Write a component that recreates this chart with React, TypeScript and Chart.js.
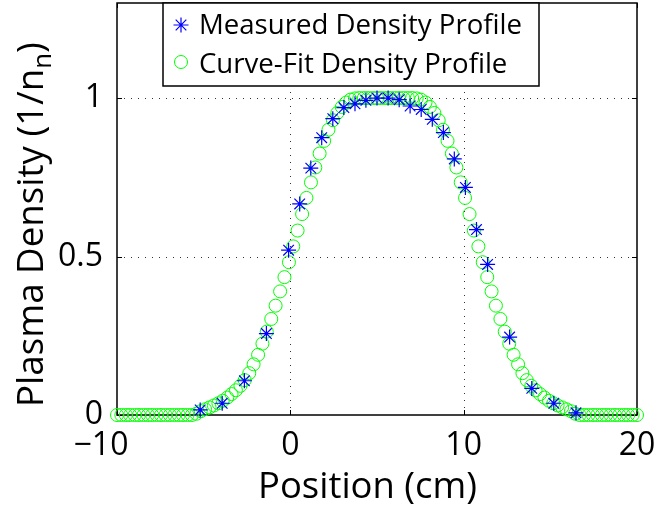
import React, { useEffect, useRef } from "react";
import { Chart, registerables } from "chart.js";

Chart.register(...registerables);

// ---------- data ----------
const measuredX = [
  -5.2, -3.93, -2.65, -1.38, -0.1, 0.54, 1.18, 1.81, 2.45, 3.09, 3.73, 4.36, 5.0, 5.64,
  6.28, 6.91, 7.55, 8.19, 8.83, 9.46, 10.1, 10.74, 11.38, 12.65, 13.93, 15.2, 16.48,
];
const measuredY = [
  0.016, 0.037, 0.108, 0.257, 0.52, 0.666, 0.779, 0.875, 0.935, 0.97, 0.982, 0.993, 1.0, 1.0,
  0.995, 0.975, 0.964, 0.933, 0.891, 0.808, 0.718, 0.585, 0.475, 0.246, 0.084, 0.037, 0.007,
];

const fitX = [
  -10.0, -9.75, -9.49, -9.24, -8.98, -8.73, -8.47, -8.22, -7.97, -7.71, -7.46, -7.2, -6.95,
  -6.69, -6.44, -6.19, -5.93, -5.68, -5.42, -5.17, -4.92, -4.66, -4.41, -4.15, -3.9, -3.64,
  -3.39, -3.14, -2.88, -2.63, -2.37, -2.12, -1.86, -1.61, -1.36, -1.1, -0.85, -0.59, -0.34,
  -0.08, 0.17, 0.42, 0.68, 0.93, 1.19, 1.44, 1.69, 1.95, 2.2, 2.46, 2.71, 2.97, 3.22, 3.47,
  3.73, 3.98, 4.24, 4.49, 4.75, 5.0, 5.25, 5.51, 5.76, 6.02, 6.27, 6.53, 6.78, 7.03, 7.29,
  7.54, 7.8, 8.05, 8.31, 8.56, 8.81, 9.07, 9.32, 9.58, 9.83, 10.08, 10.34, 10.59, 10.85,
  11.1, 11.36, 11.61, 11.86, 12.12, 12.37, 12.63, 12.88, 13.14, 13.39, 13.64, 13.9, 14.15,
  14.41, 14.66, 14.92, 15.17, 15.42, 15.68, 15.93, 16.19, 16.44, 16.69, 16.95, 17.2, 17.46,
  17.71, 17.97, 18.22, 18.47, 18.73, 18.98, 19.24, 19.49, 19.75, 20.0,
];
const fitY = [
  0, 0, 0, 0, 0, 0, 0, 0, 0, 0, 0, 0, 0, 0, 0, 0, 0, 0,
  0.004, 0.012, 0.018, 0.024, 0.03, 0.037, 0.045, 0.055, 0.066, 0.078, 0.092, 0.11, 0.132,
  0.16, 0.19, 0.225, 0.263, 0.303, 0.345, 0.39, 0.435, 0.482, 0.532, 0.582, 0.634, 0.685,
  0.734, 0.781, 0.825, 0.865, 0.9, 0.93, 0.953, 0.972, 0.986, 0.995, 0.999,
  1, 1, 1, 1, 1, 1, 1, 1, 1, 1, 1, 1, 1,
  0.999, 0.995, 0.986, 0.972, 0.953, 0.93, 0.9, 0.865, 0.825, 0.781, 0.734, 0.685, 0.634,
  0.582, 0.532, 0.482, 0.435, 0.39, 0.345, 0.303, 0.263, 0.225, 0.19, 0.16, 0.132, 0.11,
  0.092, 0.078, 0.066, 0.055, 0.045, 0.037, 0.03, 0.024, 0.018, 0.012, 0.004,
  0, 0, 0, 0, 0, 0, 0, 0, 0, 0, 0, 0, 0, 0,
];

const xTicks = [-10, 0, 10, 20];
const xTickLabels = ["\u221210\u2002\u2002", "0", "10", "20"];
const yTicks = [0, 0.5, 1];
const yTickLabels = ["0", "0.5", "1"];
const legendLabels = ["Measured Density Profile", "Curve-Fit Density Profile"];
const xTitle = "Position (cm)";
const yTitleMain = "Plasma Density (1/n";
const yTitleSub = "n";
const yTitleEnd = ")";

const FONT = "'Open Sans', 'Liberation Sans', sans-serif";

function fitSize(ctx: CanvasRenderingContext2D, text: string, target: number) {
  ctx.font = `100px ${FONT}`;
  const w = ctx.measureText(text).width;
  return (100 * target) / w;
}

const matlabPlugin = {
  id: "matlabAxes",
  beforeDatasetsDraw(chart: any) {
    const { ctx, chartArea: a, scales } = chart;
    const xs = scales.x;
    const ys = scales.y;
    ctx.save();
    // dotted grid
    ctx.strokeStyle = "#333";
    ctx.lineWidth = 1;
    ctx.setLineDash([1, 6]);
    xTicks.forEach((v) => {
      if (v <= xs.min || v >= xs.max) return;
      const px = Math.round(xs.getPixelForValue(v)) + 0.5;
      ctx.beginPath();
      ctx.moveTo(px, a.bottom);
      ctx.lineTo(px, a.top);
      ctx.stroke();
    });
    yTicks.forEach((v) => {
      if (v <= ys.min || v >= ys.max) return;
      const py = Math.round(ys.getPixelForValue(v)) + 0.5;
      ctx.beginPath();
      ctx.moveTo(a.left, py);
      ctx.lineTo(a.right, py);
      ctx.stroke();
    });
    ctx.setLineDash([]);
    // box
    ctx.strokeStyle = "#000";
    ctx.lineWidth = 1.5;
    ctx.strokeRect(a.left, a.top, a.right - a.left, a.bottom - a.top);
    // inside ticks
    ctx.lineWidth = 1;
    const tl = 5;
    xTicks.forEach((v) => {
      const px = Math.round(xs.getPixelForValue(v)) + 0.5;
      ctx.beginPath();
      ctx.moveTo(px, a.bottom);
      ctx.lineTo(px, a.bottom - tl);
      ctx.moveTo(px, a.top);
      ctx.lineTo(px, a.top + tl);
      ctx.stroke();
    });
    yTicks.forEach((v) => {
      const py = Math.round(ys.getPixelForValue(v)) + 0.5;
      ctx.beginPath();
      ctx.moveTo(a.left, py);
      ctx.lineTo(a.left + tl, py);
      ctx.moveTo(a.right, py);
      ctx.lineTo(a.right - tl, py);
      ctx.stroke();
    });
    ctx.restore();
  },
  afterDraw(chart: any) {
    const { ctx } = chart;
    ctx.save();
    ctx.textBaseline = "alphabetic";

    // legend box
    const lx = 163, ly = 3, lw = 376, lh = 83;
    ctx.fillStyle = "#fff";
    ctx.fillRect(lx, ly, lw, lh);
    ctx.strokeStyle = "#000";
    ctx.lineWidth = 1.5;
    ctx.strokeRect(lx, ly, lw, lh);
    const lsize = fitSize(ctx, legendLabels[0], 323);
    ctx.font = `${lsize}px ${FONT}`;
    ctx.fillStyle = "#000";
    ctx.textAlign = "left";
    ctx.fillText(legendLabels[0], 199, 34);
    ctx.fillText(legendLabels[1], 199, 72.5);
    // legend markers
    const ds0 = chart.data.datasets[0];
    const ds1 = chart.data.datasets[1];
    ctx.strokeStyle = ds0.borderColor;
    ctx.lineWidth = ds0.borderWidth;
    ctx.beginPath();
    {
      const r = ds0.pointRadius;
      for (let i = 0; i < 4; i++) {
        const ang = (i * Math.PI) / 4;
        ctx.moveTo(181 - Math.cos(ang) * r, 25 - Math.sin(ang) * r);
        ctx.lineTo(181 + Math.cos(ang) * r, 25 + Math.sin(ang) * r);
      }
    }
    ctx.stroke();
    ctx.strokeStyle = ds1.borderColor;
    ctx.lineWidth = ds1.borderWidth;
    ctx.beginPath();
    ctx.arc(181, 62, ds1.pointRadius, 0, Math.PI * 2);
    ctx.stroke();

    // x title
    const xsize = fitSize(ctx, xTitle, 219);
    ctx.font = `${xsize}px ${FONT}`;
    ctx.fillStyle = "#000";
    ctx.textAlign = "center";
    ctx.fillText(xTitle, 367.5, 498);

    // y title (rotated, with subscript)
    ctx.font = `100px ${FONT}`;
    const wMain = ctx.measureText(yTitleMain).width;
    const wEnd = ctx.measureText(yTitleEnd).width;
    ctx.font = `70px ${FONT}`;
    const wSub = ctx.measureText(yTitleSub).width;
    const ysize = (100 * 365) / (wMain + wSub + wEnd);
    ctx.translate(43, 407);
    ctx.rotate(-Math.PI / 2);
    ctx.textAlign = "left";
    ctx.font = `${ysize}px ${FONT}`;
    ctx.fillText(yTitleMain, 0, 0);
    let off = ctx.measureText(yTitleMain).width;
    ctx.font = `${ysize * 0.7}px ${FONT}`;
    ctx.fillText(yTitleSub, off, ysize * 0.22);
    off += ctx.measureText(yTitleSub).width;
    ctx.font = `${ysize}px ${FONT}`;
    ctx.fillText(yTitleEnd, off, 0);
    ctx.restore();
  },
};

export default function App() {
  const ref = useRef<HTMLCanvasElement | null>(null);
  useEffect(() => {
    if (!ref.current) return;
    const chart = new Chart(ref.current, {
      type: "scatter",
      data: {
        datasets: [
          {
            label: legendLabels[0],
            data: measuredX.map((x, i) => ({ x, y: measuredY[i] })),
            pointStyle: "star",
            pointRadius: 7.5,
            borderColor: "#0000ff",
            backgroundColor: "#0000ff",
            borderWidth: 1.2,
            showLine: false,
            clip: false,
          } as any,
          {
            label: legendLabels[1],
            data: fitX.map((x, i) => ({ x, y: fitY[i] })),
            pointStyle: "circle",
            pointRadius: 6.5,
            borderColor: "#00ff00",
            backgroundColor: "rgba(0,0,0,0)",
            borderWidth: 1,
            showLine: false,
            clip: false,
          } as any,
        ],
      },
      options: {
        animation: false,
        responsive: false,
        devicePixelRatio: 1,
        events: [],
        layout: { autoPadding: false, padding: { top: 3, right: 22, left: 0, bottom: 0 } },
        plugins: { legend: { display: false }, tooltip: { enabled: false } },
        scales: {
          x: {
            type: "linear",
            min: -10,
            max: 20,
            afterBuildTicks: (s: any) => {
              s.ticks = xTicks.map((v) => ({ value: v }));
            },
            afterFit: (s: any) => {
              s.height = 94;
              s.paddingLeft = 0;
              s.paddingRight = 0;
            },
            ticks: {
              callback: (v: any) => xTickLabels[xTicks.indexOf(Number(v))],
              font: { family: FONT, size: 32 },
              color: "#000",
              padding: 12,
              maxRotation: 0,
              autoSkip: false,
            },
            grid: { display: false, drawTicks: false },
            border: { display: false },
          },
          y: {
            type: "linear",
            min: 0,
            max: 1.3,
            afterBuildTicks: (s: any) => {
              s.ticks = yTicks.map((v) => ({ value: v }));
            },
            afterFit: (s: any) => {
              s.width = 117;
              s.paddingTop = 0;
              s.paddingBottom = 0;
            },
            ticks: {
              callback: (v: any) => yTickLabels[yTicks.indexOf(Number(v))],
              font: { family: FONT, size: 32 },
              color: "#000",
              padding: 14,
              autoSkip: false,
            },
            grid: { display: false, drawTicks: false },
            border: { display: false },
          },
        },
      },
      plugins: [matlabPlugin],
    });
    return () => chart.destroy();
  }, []);
  return (
    <div style={{ position: "fixed", left: 0, top: 0, width: 659, height: 509, background: "#fff" }}>
      <canvas ref={ref} width={659} height={509} />
    </div>
  );
}
